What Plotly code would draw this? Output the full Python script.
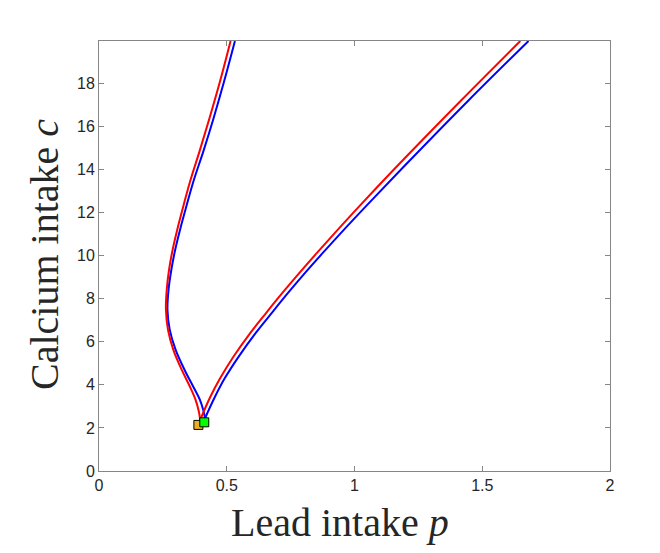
import plotly.graph_objects as go

# Red boundary (left branch from top down to cusp, right branch from cusp to top)
red_left_p = [0.515, 0.474, 0.433, 0.394, 0.357, 0.325, 0.306, 0.288, 0.274, 0.265, 0.262, 0.270, 0.291, 0.324, 0.356, 0.378, 0.391, 0.396]
red_left_c = [19.96, 18.1, 16.4, 14.86, 13.46, 12.07, 11.19, 10.26, 9.33, 8.40, 7.47, 6.55, 5.62, 4.69, 3.91, 3.30, 2.75, 2.37]
red_right_p = [0.396, 0.434, 0.474, 0.526, 0.591, 0.656, 0.721, 0.787, 0.852, 0.926, 1.022, 1.17, 1.417, 1.649]
red_right_c = [2.37, 3.40, 4.30, 5.30, 6.39, 7.365, 8.31, 9.23, 10.11, 11.09, 12.33, 14.19, 17.20, 19.96]

# Blue boundary
blue_left_p = [0.532, 0.490, 0.449, 0.409, 0.370, 0.337, 0.317, 0.298, 0.283, 0.272, 0.268, 0.277, 0.300, 0.335, 0.369, 0.395, 0.408, 0.415]
blue_left_c = [19.96, 18.1, 16.4, 14.86, 13.46, 12.07, 11.19, 10.26, 9.33, 8.40, 7.47, 6.55, 5.62, 4.69, 3.91, 3.30, 2.83, 2.45]
blue_right_p = [0.415, 0.452, 0.492, 0.546, 0.612, 0.678, 0.743, 0.809, 0.875, 0.950, 1.048, 1.198, 1.446, 1.681]
blue_right_c = [2.45, 3.40, 4.30, 5.30, 6.39, 7.365, 8.31, 9.23, 10.11, 11.09, 12.33, 14.19, 17.20, 19.96]

# Cusp markers
orange_p, orange_c = [0.389], [2.14]
green_p, green_c = [0.412], [2.26]

x_ticks = [0, 0.5, 1, 1.5, 2]
y_ticks = [0, 2, 4, 6, 8, 10, 12, 14, 16, 18]

fig = go.Figure()
for p, c in [(blue_left_p, blue_left_c), (blue_right_p, blue_right_c)]:
    fig.add_trace(go.Scatter(x=p, y=c, mode="lines",
                             line=dict(color="#0000FF", width=2, shape="spline", smoothing=1.0),
                             showlegend=False))
for p, c in [(red_left_p, red_left_c), (red_right_p, red_right_c)]:
    fig.add_trace(go.Scatter(x=p, y=c, mode="lines",
                             line=dict(color="#FF0000", width=2, shape="spline", smoothing=1.0),
                             showlegend=False))
fig.add_trace(go.Scatter(x=orange_p, y=orange_c, mode="markers",
                         marker=dict(symbol="square", size=9, color="#EDB120",
                                     line=dict(color="black", width=1)),
                         showlegend=False))
fig.add_trace(go.Scatter(x=green_p, y=green_c, mode="markers",
                         marker=dict(symbol="square", size=9, color="#00FF00",
                                     line=dict(color="black", width=1)),
                         showlegend=False))

axis_common = dict(showgrid=False, zeroline=False, showline=True, linecolor="#868686",
                   linewidth=1, mirror="ticks", ticks="inside", ticklen=5,
                   tickcolor="#868686",
                   tickfont=dict(family="Liberation Sans, Arial", size=16, color="#262626"))

fig.update_xaxes(range=[0, 2], tickvals=x_ticks, ticktext=[str(v) for v in x_ticks],
                 **axis_common)
fig.update_yaxes(range=[0, 19.96], tickvals=y_ticks, ticktext=[str(v) for v in y_ticks],
                 **axis_common)

title_font = dict(family="Liberation Serif, serif", size=40, color="#262626")
fig.add_annotation(text="Lead intake <i>p</i>", xref="paper", yref="paper",
                   x=(340 - 99) / 511, y=(471 - 522) / 430, xanchor="center", yanchor="middle",
                   showarrow=False, font=title_font)
fig.add_annotation(text="Calcium intake <i>c</i>", xref="paper", yref="paper",
                   x=(45 - 99) / 511, y=(471 - 255) / 430, xanchor="center", yanchor="middle",
                   textangle=-90, showarrow=False, font=title_font)

fig.update_layout(width=660, height=553, plot_bgcolor="white", paper_bgcolor="white",
                  margin=dict(l=99, r=50, t=41, b=82))

fig.write_html("out.html")
